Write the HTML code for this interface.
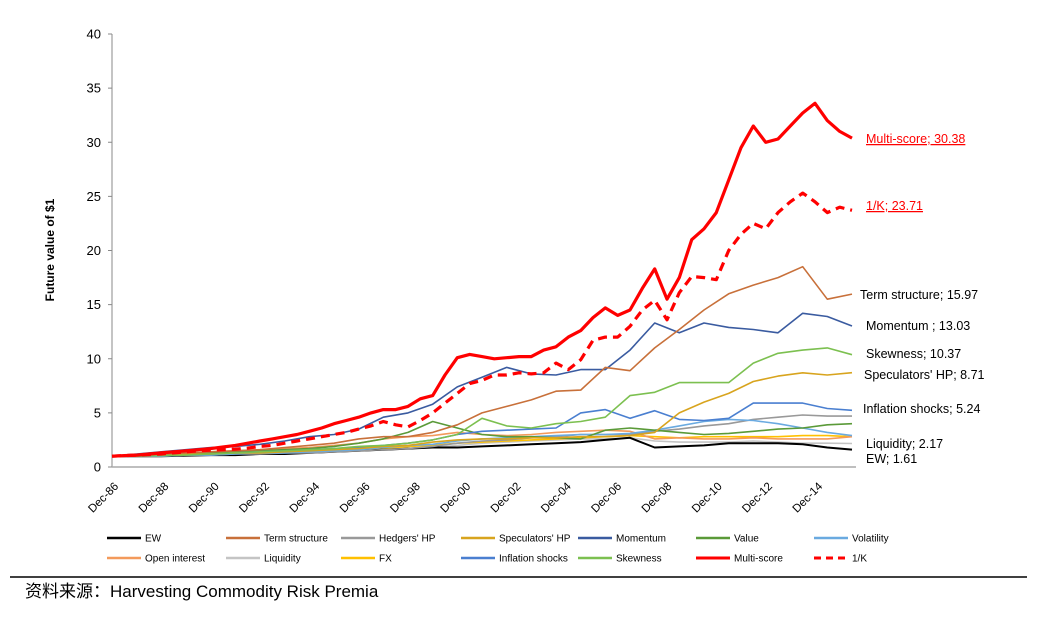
<!DOCTYPE html>
<html><head><meta charset="utf-8">
<style>
body{margin:0;background:#fff;}
svg text{font-family:"Liberation Sans","Noto Sans CJK SC",sans-serif;}
</style></head>
<body>
<svg id="chart" width="1044" height="615" xmlns="http://www.w3.org/2000/svg">
<g id="yaxis"></g>
<g id="xaxis"></g>
<text transform="translate(54,250) rotate(-90)" text-anchor="middle" font-size="12" font-weight="bold">Future value of $1</text>
<g id="series"></g>
<g id="labels"></g>
<g id="legend"></g>
<line x1="10" y1="577" x2="1027" y2="577" stroke="#000" stroke-width="1.5"/>
<text x="25" y="597" font-size="17">资料来源：Harvesting Commodity Risk Premia</text>
</svg>
<script>
const yTicks=[0,5,10,15,20,25,30,35,40];
const xTickLabels=["Dec-86","Dec-88","Dec-90","Dec-92","Dec-94","Dec-96","Dec-98","Dec-00","Dec-02","Dec-04","Dec-06","Dec-08","Dec-10","Dec-12","Dec-14"];
const seriesNames=["EW","Term structure","Hedgers' HP","Speculators' HP","Momentum","Value","Volatility","Open interest","Liquidity","FX","Inflation shocks","Skewness","Multi-score","1/K"];
const ewVals=[1.0,1.0,1.0,1.05,1.1,1.1,1.2,1.2,1.3,1.4,1.5,1.6,1.7,1.8,1.8,1.9,2.0,2.1,2.2,2.3,2.5,2.7,1.8,1.9,2.0,2.2,2.2,2.2,2.1,1.8,1.61];
const termVals=[1.0,1.1,1.2,1.3,1.4,1.5,1.6,1.8,2.0,2.2,2.6,2.8,2.8,3.2,3.9,5.0,5.6,6.2,7.0,7.1,9.2,8.9,11.0,12.7,14.5,16.0,16.8,17.5,18.5,15.5,15.97];
const hedgersVals=[1.0,1.0,1.0,1.1,1.1,1.2,1.2,1.3,1.3,1.4,1.5,1.6,1.7,1.9,2.2,2.4,2.5,2.7,2.8,3.0,3.0,3.0,3.3,3.5,3.8,4.0,4.4,4.6,4.8,4.7,4.7];
const specVals=[1.0,1.1,1.2,1.2,1.2,1.3,1.3,1.4,1.5,1.6,1.7,1.9,2.0,2.3,2.5,2.6,2.6,2.7,2.7,2.8,2.8,2.9,3.2,5.0,6.0,6.8,7.9,8.4,8.7,8.5,8.71];
const momVals=[1.0,1.2,1.4,1.6,1.8,1.9,2.1,2.4,2.8,3.0,3.5,4.6,5.0,5.8,7.4,8.3,9.2,8.6,8.5,9.0,9.0,10.8,13.3,12.4,13.3,12.9,12.7,12.4,14.2,13.9,13.03];
const valueVals=[1.0,1.0,1.1,1.2,1.3,1.4,1.5,1.6,1.7,1.9,2.2,2.6,3.2,4.2,3.6,3.0,2.8,2.8,2.7,2.6,3.4,3.6,3.4,3.2,3.0,3.1,3.3,3.5,3.6,3.9,4.0];
const volVals=[1.0,1.0,1.0,1.1,1.1,1.2,1.3,1.3,1.4,1.5,1.6,1.8,2.0,2.1,2.4,2.6,2.7,2.8,2.9,3.0,3.0,3.1,3.4,3.8,4.2,4.4,4.3,4.0,3.6,3.2,2.9];
const oiVals=[1.0,1.1,1.2,1.3,1.4,1.5,1.6,1.7,1.8,2.0,2.2,2.6,2.8,2.9,3.2,3.0,2.9,3.0,3.2,3.3,3.4,3.3,2.6,2.7,2.6,2.6,2.7,2.6,2.6,2.6,2.8];
const liqVals=[1.0,1.0,1.0,1.1,1.1,1.2,1.2,1.3,1.3,1.4,1.5,1.6,1.7,1.8,2.0,2.2,2.3,2.4,2.5,2.6,2.6,2.7,2.4,2.3,2.3,2.3,2.4,2.3,2.2,2.2,2.17];
const fxVals=[1.0,1.1,1.1,1.2,1.2,1.2,1.3,1.3,1.4,1.5,1.6,1.7,1.9,2.0,2.2,2.3,2.4,2.5,2.6,2.7,2.8,2.9,2.8,2.7,2.8,2.8,2.8,2.8,2.9,2.9,2.8];
const inflVals=[1.0,1.0,1.1,1.1,1.2,1.3,1.4,1.5,1.6,1.7,1.8,2.0,2.2,2.5,3.0,3.3,3.4,3.5,3.6,5.0,5.3,4.5,5.2,4.4,4.3,4.5,5.9,5.9,5.9,5.4,5.24];
const skewVals=[1.0,1.0,1.05,1.1,1.2,1.3,1.4,1.5,1.6,1.7,1.9,2.0,2.2,2.5,3.0,4.5,3.8,3.6,4.0,4.2,4.6,6.6,6.9,7.8,7.8,7.8,9.6,10.5,10.8,11.0,10.37];
const multiVals=[1.0,1.05,1.1,1.2,1.3,1.4,1.5,1.6,1.7,1.85,2.0,2.2,2.4,2.6,2.8,3.0,3.3,3.6,4.0,4.3,4.6,5.0,5.3,5.3,5.6,6.3,6.6,8.5,10.1,10.4,10.2,10.0,10.1,10.2,10.2,10.8,11.1,12.0,12.6,13.8,14.7,14.0,14.5,16.5,18.3,15.5,17.5,21.0,22.0,23.5,26.5,29.5,31.5,30.0,30.3,31.5,32.7,33.6,32.0,31.0,30.38];
const invKVals=[1.0,1.05,1.1,1.15,1.2,1.3,1.4,1.5,1.55,1.6,1.65,1.75,1.9,2.0,2.2,2.4,2.6,2.8,3.0,3.2,3.5,3.8,4.2,3.9,3.7,4.3,5.0,5.9,6.8,7.7,8.0,8.5,8.5,8.7,8.6,8.7,9.6,9.0,9.9,11.7,12.0,12.0,13.0,14.5,15.4,13.6,16.1,17.6,17.5,17.3,20.0,21.5,22.5,22.0,23.5,24.5,25.3,24.5,23.5,24.0,23.71];

const X0=112,X1=852,Y0=467,Y40=34;
function xs(t){return X0+(X1-X0)*t/30;}
function ys(v){return Y0-(Y0-Y40)*v/40;}
function xl(i){return 119+50.3*i;}
const NS="http://www.w3.org/2000/svg";
function mk(tag,attrs,parent){const e=document.createElementNS(NS,tag);for(const k in attrs)e.setAttribute(k,attrs[k]);parent.appendChild(e);return e;}

const ya=document.getElementById('yaxis');
mk('line',{x1:X0,y1:Y40,x2:X0,y2:Y0,stroke:'#888','stroke-width':1},ya);
yTicks.forEach(v=>{
  mk('line',{x1:X0-4,y1:ys(v),x2:X0,y2:ys(v),stroke:'#888'},ya);
  const t=mk('text',{x:X0-11,y:ys(v)+4.5,'text-anchor':'end','font-size':13},ya);
  t.textContent=v;
  
  
});
const xa=document.getElementById('xaxis');
mk('line',{x1:X0,y1:Y0,x2:856,y2:Y0,stroke:'#aaa','stroke-width':1.5},xa);
xTickLabels.forEach((lab,i)=>{
  const x=xl(i);
  const t=mk('text',{x:0,y:0,'text-anchor':'end','font-size':11.5,transform:`translate(${x},${Y0+20}) rotate(-45)`},xa);
  t.textContent=lab;
  
  
});

const styles=[
 ['ew',ewVals,'#000000',2,null],
 ['term-structure',termVals,'#C8703A',1.6,null],
 ['hedgers-hp',hedgersVals,'#999999',1.6,null],
 ['speculators-hp',specVals,'#D8A41E',1.6,null],
 ['momentum',momVals,'#3A5BA0',1.6,null],
 ['value',valueVals,'#5A9A38',1.6,null],
 ['volatility',volVals,'#6AAAE0',1.6,null],
 ['open-interest',oiVals,'#F39A5B',1.6,null],
 ['liquidity',liqVals,'#C4C4C4',1.6,null],
 ['fx',fxVals,'#FFC000',1.6,null],
 ['inflation-shocks',inflVals,'#4A7FD0',1.6,null],
 ['skewness',skewVals,'#7CC050',1.6,null],
 ['multi-score',multiVals,'#FF0000',3.2,null],
 ['inv-k',invKVals,'#FF0000',3.2,'9,6']
];
const sg=document.getElementById('series');
const drawOrder=[8,9,7,0,2,6,5,10,3,11,4,1,13,12];
drawOrder.forEach(i=>{
  const [nm,vals,col,w,dash]=styles[i];
  const step=30/(vals.length-1);
  const d=vals.map((v,j)=>(j?'L':'M')+xs(j*step).toFixed(1)+','+ys(v).toFixed(1)).join('');
  const p=mk('path',{d:d,fill:'none',stroke:col,'stroke-width':w,'stroke-linejoin':'round'},sg);
  if(dash)p.setAttribute('stroke-dasharray',dash);
  
  
});

const endLabels=[
 ['Multi-score; 30.38',866,143,'#FF0000',true],
 ['1/K; 23.71',866,210,'#FF0000',true],
 ['Term structure; 15.97',860,299,'#000',false],
 ['Momentum ; 13.03',866,330,'#000',false],
 ['Skewness; 10.37',866,358,'#000',false],
 ["Speculators' HP; 8.71",864,379,'#000',false],
 ['Inflation shocks; 5.24',863,413,'#000',false],
 ['Liquidity; 2.17',866,448,'#000',false],
 ['EW; 1.61',866,463,'#000',false]
];
const lg=document.getElementById('labels');
endLabels.forEach(([txt,x,y,c,u])=>{
  const t=mk('text',{x:x,y:y,'font-size':12.5,fill:c},lg);
  if(u)t.setAttribute('text-decoration','underline');
  t.textContent=txt;
  
  
});

const legCols=[107,226,341,461,578,696,814];
const leg=document.getElementById('legend');
seriesNames.forEach((nm,i)=>{
  const row=Math.floor(i/7),col=i%7;
  const x=legCols[col],y=538+row*20;
  const st=styles[i];
  const g=mk('g',{},leg);
  
  
  const l=mk('line',{x1:x,y1:y,x2:x+34,y2:y,stroke:st[2],'stroke-width':st[3]>3?3:2.5},g);
  if(st[4])l.setAttribute('stroke-dasharray','7,5');
  const t=mk('text',{x:x+38,y:y+3.5,'font-size':10},g);
  t.textContent=nm;
});
</script>
</body></html>
